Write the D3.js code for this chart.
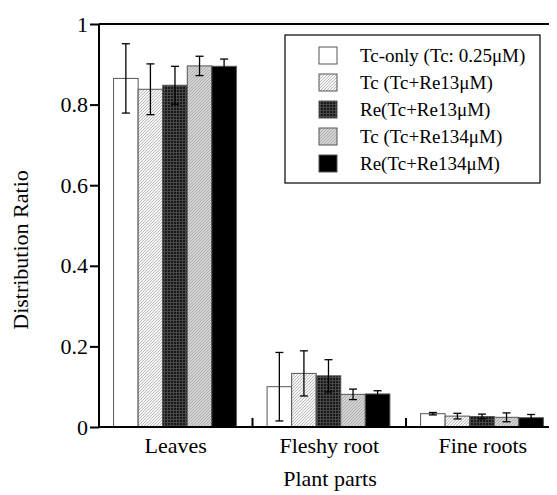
<!DOCTYPE html>
<html><head><meta charset="utf-8">
<script src="https://cdn.jsdelivr.net/npm/d3@7"></script>
<style>body{margin:0;background:#fff}svg{display:block}text{font-family:"Liberation Serif","Times New Roman",serif;fill:#000}</style>
</head><body><svg id="c" width="557" height="495"></svg>
<script>
const categories = ["Leaves", "Fleshy root", "Fine roots"];
const seriesNames = ["Tc-only (Tc: 0.25μM)", "Tc (Tc+Re13μM)", "Re(Tc+Re13μM)", "Tc (Tc+Re134μM)", "Re(Tc+Re134μM)"];
const tcOnly = [0.865, 0.100, 0.033];
const tcOnlyErr = [0.086, 0.085, 0.003];
const tc13 = [0.838, 0.133, 0.027];
const tc13Err = [0.063, 0.056, 0.007];
const re13 = [0.848, 0.127, 0.026];
const re13Err = [0.047, 0.040, 0.006];
const tc134 = [0.896, 0.081, 0.024];
const tc134Err = [0.024, 0.013, 0.011];
const re134 = [0.895, 0.082, 0.023];
const re134Err = [0.018, 0.008, 0.008];
const yTicks = [0, 0.2, 0.4, 0.6, 0.8, 1];
const yTickLabels = ["0", "0.2", "0.4", "0.6", "0.8", "1"];

const values = [tcOnly, tc13, re13, tc134, re134];
const errors = [tcOnlyErr, tc13Err, re13Err, tc134Err, re134Err];

const svg = d3.select("#c");
const defs = svg.append("defs");
const p1 = defs.append("pattern").attr("id","hatch").attr("patternUnits","userSpaceOnUse").attr("width",3).attr("height",3);
p1.append("rect").attr("width",3).attr("height",3).attr("fill","#f6f6f6");
p1.append("path").attr("d","M-1,1 l2,-2 M0,3 l3,-3 M2,4 l2,-2").attr("stroke","#a0a0a0").attr("stroke-width",0.7);
const p2 = defs.append("pattern").attr("id","dots").attr("patternUnits","userSpaceOnUse").attr("width",3).attr("height",3);
p2.append("rect").attr("width",3).attr("height",3).attr("fill","#484848");
p2.append("rect").attr("width",2).attr("height",2).attr("fill","#181818");
const p3 = defs.append("pattern").attr("id","grayhatch").attr("patternUnits","userSpaceOnUse").attr("width",3).attr("height",3);
p3.append("rect").attr("width",3).attr("height",3).attr("fill","#d4d4d4");
p3.append("path").attr("d","M-1,1 l2,-2 M0,3 l3,-3 M2,4 l2,-2").attr("stroke","#a2a2a2").attr("stroke-width",0.8);
const fills = ["#ffffff", "url(#hatch)", "url(#dots)", "url(#grayhatch)", "#000000"];

const mLeft = 99, mRight = 559.5, mTop = 24, mBottom = 427;
const y = d3.scaleLinear().domain([0,1]).range([mBottom, mTop]);
const x0 = d3.scaleBand().domain(categories).range([mLeft, mRight]).paddingInner(0).paddingOuter(0);
const bw = x0.bandwidth();
const x1 = d3.scaleBand().domain(seriesNames).range([bw*0.095, bw*0.895]);

const g = svg.append("g");
categories.forEach((c, ci) => {
  seriesNames.forEach((s, si) => {
    const v = values[si][ci];
    g.append("rect")
      .attr("x", x0(c) + x1(s))
      .attr("y", y(v))
      .attr("width", x1.bandwidth())
      .attr("height", y(0) - y(v))
      .attr("fill", fills[si])
      .attr("stroke", "#555")
      .attr("stroke-width", 1);
  });
});
categories.forEach((c, ci) => {
  seriesNames.forEach((s, si) => {
    const v = values[si][ci], e = errors[si][ci];
    const cx = x0(c) + x1(s) + x1.bandwidth()/2;
    const eg = g.append("g").attr("stroke", "#000").attr("stroke-width", 1.3);
    eg.append("line").attr("x1",cx).attr("x2",cx).attr("y1",y(v+e)).attr("y2",y(v-e));
    eg.append("line").attr("x1",cx-4).attr("x2",cx+4).attr("y1",y(v+e)).attr("y2",y(v+e));
    eg.append("line").attr("x1",cx-4).attr("x2",cx+4).attr("y1",y(v-e)).attr("y2",y(v-e));
  });
});

const yAxis = d3.axisLeft(y).tickValues(yTicks).tickFormat((d,i)=>yTickLabels[i]).tickSize(9).tickPadding(2);
const ya = svg.append("g").attr("transform",`translate(${mLeft},0)`).call(yAxis);
ya.attr("font-family", null).attr("font-size", null);
ya.select(".domain").attr("stroke","#000").attr("stroke-width",2).attr("d",`M0,${mTop}V${mBottom}`);
ya.selectAll(".tick line").attr("stroke","#000").attr("stroke-width",2);
ya.selectAll(".tick text").attr("font-size",22);

const xEnd = 549;
svg.append("line").attr("x1",mLeft).attr("x2",xEnd).attr("y1",mBottom).attr("y2",mBottom).attr("stroke","#000").attr("stroke-width",2);
svg.append("line").attr("x1",mLeft).attr("x2",xEnd).attr("y1",mTop).attr("y2",mTop).attr("stroke","#000").attr("stroke-width",2);
categories.slice(1).forEach(c => {
  svg.append("line").attr("x1",x0(c)).attr("x2",x0(c)).attr("y1",mBottom).attr("y2",mBottom-9).attr("stroke","#000").attr("stroke-width",2);
});
categories.forEach(c => {
  svg.append("text").attr("x", x0(c)+bw/2).attr("y", 453).attr("text-anchor","middle").attr("font-size",22).text(c);
});
svg.append("text").attr("x", 330).attr("y", 486).attr("text-anchor","middle").attr("font-size",22).text("Plant parts");
svg.append("text").attr("transform","translate(28,250) rotate(-90)").attr("text-anchor","middle").attr("font-size",22).text("Distribution Ratio");

const lg = svg.append("g");
lg.append("rect").attr("x",285).attr("y",35).attr("width",255).attr("height",148).attr("fill","#fff").attr("stroke","#000").attr("stroke-width",1.2);
seriesNames.forEach((s, si) => {
  const ry = 47 + si*27;
  lg.append("rect").attr("x",319).attr("y",ry).attr("width",18).attr("height",17).attr("fill",fills[si]).attr("stroke","#555").attr("stroke-width",1);
  lg.append("text").attr("x",360).attr("y",ry+14.5).attr("font-size",19).text(s);
});
</script></body></html>
